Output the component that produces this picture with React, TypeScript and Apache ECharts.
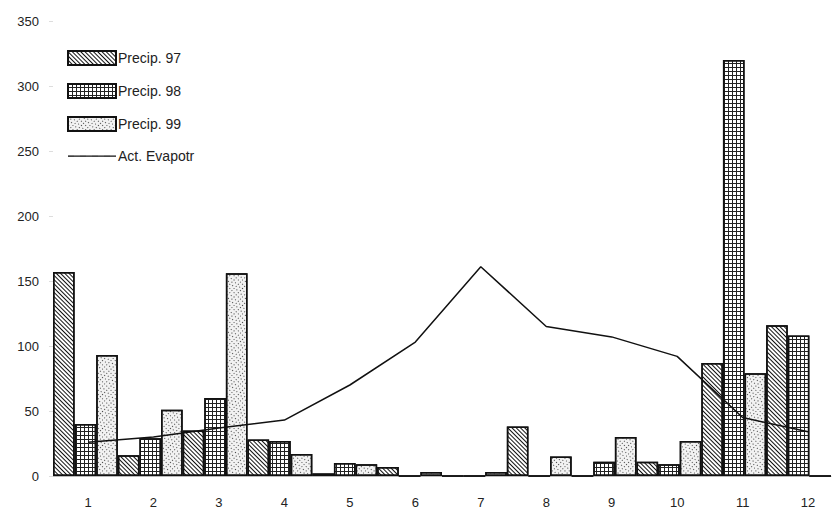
import { useEffect, useRef } from 'react'
import * as echarts from 'echarts'

const months = [1, 2, 3, 4, 5, 6, 7, 8, 9, 10, 11, 12]
const precip97 = [157, 16, 35, 28, 2, 7, 0, 38, 0, 11, 87, 116]
const precip98 = [40, 29, 60, 27, 10, 0, 0, 0, 11, 9, 320, 108]
const precip99 = [93, 51, 156, 17, 9, 3, 3, 15, 30, 27, 79, 0]
const evapo = [26, 30, 37, 43, 70, 103, 161, 115, 107, 92, 45, 34]
const yTicks = [0, 50, 100, 150, 200, 250, 300, 350]

const FONT = 'Liberation Sans, Arial, sans-serif'

// the original plots the 36 bars one after another, one slot each
const slots = months.flatMap((m) => [`${m}a`, `${m}b`, `${m}c`])
function slotData(values: number[], offset: number) {
  const out: (number | string)[] = slots.map(() => '-')
  values.forEach((v, i) => {
    out[i * 3 + offset] = v
  })
  return out
}

const decals = [
  { symbol: 'rect', color: '#111', dashArrayX: [1, 0], dashArrayY: [0.8, 2], rotation: Math.PI / 4 },
  {
    symbol: 'rect',
    color: '#222',
    dashArrayX: [[4, 0], [1, 3], [1, 3], [1, 3]],
    dashArrayY: [1, 0],
    symbolSize: 1,
  },
  { symbol: 'rect', color: '#444', dashArrayX: [[1, 2], [0, 1.5, 1, 0.5]], dashArrayY: [1, 1.5], symbolSize: 1 },
]
const barColors = ['#fff', '#fff', '#f2f2f2']

export default function App() {
  const ref = useRef<HTMLDivElement>(null)

  useEffect(() => {
    const el = ref.current
    if (!el) return
    const chart = echarts.init(el, undefined, { renderer: 'svg' })
    const names = ['Precip. 97', 'Precip. 98', 'Precip. 99']
    const bars = [precip97, precip98, precip99].map((vals, k) => ({
      name: names[k],
      type: 'bar',
      xAxisIndex: 1,
      data: slotData(vals, k),
      barGap: '-100%',
      barCategoryGap: 0,
      itemStyle: { color: barColors[k], borderColor: '#111', borderWidth: 1.5, decal: decals[k] },
    }))
    chart.setOption({
      animation: false,
      textStyle: { fontFamily: FONT },
      aria: { enabled: true, decal: { show: true } },
      grid: { left: 53, right: 9, top: 21, bottom: 41 },
      legend: {
        orient: 'vertical',
        left: 62,
        top: 45,
        itemWidth: 48,
        itemHeight: 14,
        itemGap: 17,
        textStyle: { fontSize: 14, color: '#222', padding: [0, 0, 0, -3] },
        data: [
          ...names.map((name) => ({ name, icon: 'rect' })),
          { name: 'Act. Evapotr', icon: 'path://M0,0L0,0M0,6.4L48,6.4L48,7.8L0,7.8ZM48,14L48,14' },
        ],
      },
      xAxis: [
        {
          type: 'value',
          min: 0.465,
          max: 12.35,
          splitLine: { show: false },
          axisLine: { show: true, lineStyle: { color: '#bbb' } },
          axisTick: { show: false },
          axisLabel: { customValues: months, color: '#222', fontSize: 13, margin: 20 },
        },
        { type: 'category', data: slots, show: false },
      ],
      yAxis: {
        type: 'value',
        min: 0,
        max: 350,
        interval: 50,
        splitLine: { show: false },
        axisLine: { show: false },
        axisTick: { show: true, length: 4, lineStyle: { color: '#ddd' } },
        axisLabel: { color: '#222', fontSize: 13, margin: 14, customValues: yTicks },
      },
      series: [
        ...bars,
        {
          name: 'Act. Evapotr',
          type: 'line',
          xAxisIndex: 0,
          symbol: 'none',
          data: months.map((m, i) => [m, evapo[i]]),
          lineStyle: { color: '#111', width: 1.5 },
          itemStyle: { color: '#111' },
          z: 3,
        },
      ],
    })
    return () => chart.dispose()
  }, [])

  return <div ref={ref} style={{ width: 840, height: 517, position: 'absolute', left: 0, top: 0 }} />
}
